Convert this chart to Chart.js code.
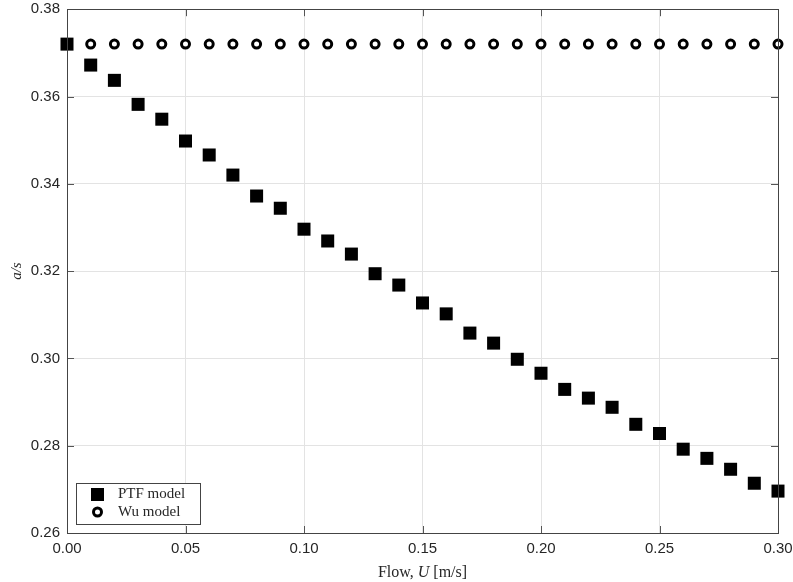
<!DOCTYPE html>
<html lang="en">
<head>
  <meta charset="UTF-8" />
  <title>a/s vs Flow</title>
  <script src="https://cdn.jsdelivr.net/npm/chart.js"></script>
  <style>
    html, body { margin: 0; padding: 0; background: #fff; }
    #wrap { width: 793px; height: 582px; }
  </style>
</head>
<body>
  <div id="wrap"><canvas id="grafico" width="793" height="582"></canvas></div>

  <script>
    // flow velocity U [m/s]
    const flow = [0.00, 0.01, 0.02, 0.03, 0.04, 0.05, 0.06, 0.07, 0.08, 0.09,
                  0.10, 0.11, 0.12, 0.13, 0.14, 0.15, 0.16, 0.17, 0.18, 0.19,
                  0.20, 0.21, 0.22, 0.23, 0.24, 0.25, 0.26, 0.27, 0.28, 0.29, 0.30];
    const ptfModel = [0.3720, 0.3672, 0.3637, 0.3582, 0.3548, 0.3498, 0.3466, 0.3420, 0.3372, 0.3344,
                      0.3296, 0.3269, 0.3239, 0.3194, 0.3168, 0.3127, 0.3102, 0.3058, 0.3035, 0.2998,
                      0.2966, 0.2929, 0.2909, 0.2888, 0.2849, 0.2828, 0.2792, 0.2771, 0.2746, 0.2714, 0.2696];
    const wuModel = [0.372, 0.372, 0.372, 0.372, 0.372, 0.372, 0.372, 0.372, 0.372, 0.372,
                     0.372, 0.372, 0.372, 0.372, 0.372, 0.372, 0.372, 0.372, 0.372, 0.372,
                     0.372, 0.372, 0.372, 0.372, 0.372, 0.372, 0.372, 0.372, 0.372, 0.372, 0.372];
    const seriesNames = ['PTF model', 'Wu model'];
    const xTicks = [0.00, 0.05, 0.10, 0.15, 0.20, 0.25, 0.30];
    const yTicks = [0.26, 0.28, 0.30, 0.32, 0.34, 0.36, 0.38];

    const sans = '"Liberation Sans", Arial, sans-serif';
    const serif = '"Liberation Serif", "DejaVu Serif", serif';

    // inward ticks on all four sides + box, axis title and legend
    const boxTicks = {
      id: 'boxTicks',
      afterDatasetsDraw(chart) {
        const { ctx, chartArea: a, scales } = chart;
        ctx.save();
        ctx.strokeStyle = '#555';
        ctx.lineWidth = 1;
        ctx.beginPath();
        xTicks.forEach(v => {
          const px = Math.round(scales.x.getPixelForValue(v)) + 0.5;
          ctx.moveTo(px, a.bottom); ctx.lineTo(px, a.bottom - 7);
          ctx.moveTo(px, a.top); ctx.lineTo(px, a.top + 7);
        });
        yTicks.forEach(v => {
          const py = Math.round(scales.y.getPixelForValue(v)) + 0.5;
          ctx.moveTo(a.left, py); ctx.lineTo(a.left + 7, py);
          ctx.moveTo(a.right, py); ctx.lineTo(a.right - 7, py);
        });
        ctx.stroke();
        ctx.strokeStyle = '#444';
        ctx.strokeRect(Math.round(a.left) + 0.5, Math.round(a.top) + 0.5,
                       Math.round(a.right - a.left), Math.round(a.bottom - a.top));
        ctx.restore();
      },
      afterDraw(chart) {
        const { ctx, chartArea: a } = chart;
        ctx.save();
        // x axis title with italic U
        const parts = [['Flow, ', 'normal'], ['U', 'italic'], [' [m/s]', 'normal']];
        let total = 0;
        parts.forEach(p => { ctx.font = p[1] + ' 16px ' + serif; total += ctx.measureText(p[0]).width; });
        let x = (a.left + a.right) / 2 - total / 2;
        ctx.fillStyle = '#262626';
        ctx.textBaseline = 'middle';
        parts.forEach(p => {
          ctx.font = p[1] + ' 16px ' + serif;
          ctx.fillText(p[0], x, 573);
          x += ctx.measureText(p[0]).width;
        });

        // legend box, bottom-left inside the plot
        const lx = a.left + 9, ly = a.bottom - 50, lw = 124, lh = 41;
        ctx.fillStyle = '#fff';
        ctx.fillRect(lx, ly, lw, lh);
        ctx.strokeStyle = '#444';
        ctx.lineWidth = 1;
        ctx.strokeRect(lx + 0.5, ly + 0.5, lw, lh);
        ctx.fillStyle = '#000';
        ctx.fillRect(lx + 15, ly + 5, 13, 13);
        ctx.beginPath();
        ctx.arc(lx + 21.5, ly + 29, 4, 0, Math.PI * 2);
        ctx.lineWidth = 3;
        ctx.strokeStyle = '#000';
        ctx.stroke();
        ctx.fillStyle = '#262626';
        ctx.font = '15px ' + serif;
        ctx.textBaseline = 'middle';
        ctx.fillText(seriesNames[0], lx + 42, ly + 11);
        ctx.fillText(seriesNames[1], lx + 42, ly + 29);
        ctx.restore();
      }
    };

    new Chart(document.getElementById('grafico'), {
      type: 'scatter',
      data: {
        datasets: [
          {
            label: seriesNames[0],
            data: flow.map((f, i) => ({ x: f, y: ptfModel[i] })),
            pointStyle: 'rect',
            pointRadius: 9.2,
            pointHoverRadius: 9.2,
            backgroundColor: '#000',
            borderColor: '#000',
            borderWidth: 0,
            clip: false,
            order: 0
          },
          {
            label: seriesNames[1],
            data: flow.map((f, i) => ({ x: f, y: wuModel[i] })),
            pointStyle: 'circle',
            pointRadius: 4,
            pointHoverRadius: 4,
            backgroundColor: '#fff',
            borderColor: '#000',
            borderWidth: 3,
            clip: false,
            order: 1
          }
        ]
      },
      options: {
        responsive: false,
        animation: false,
        layout: { padding: { top: 9, right: 15, left: 0, bottom: 0 } },
        plugins: {
          legend: { display: false },
          tooltip: { enabled: false }
        },
        scales: {
          x: {
            type: 'linear',
            min: 0,
            max: 0.30,
            afterBuildTicks: s => { s.ticks = xTicks.map(v => ({ value: v })); },
            afterFit: s => { s.height = 49; s.paddingLeft = 0; s.paddingRight = 0; },
            grid: { color: '#e3e3e3', drawTicks: false },
            border: { display: false },
            ticks: {
              padding: 7,
              color: '#262626',
              font: { family: sans, size: 15 },
              callback: v => Number(v).toFixed(2)
            }
          },
          y: {
            type: 'linear',
            min: 0.26,
            max: 0.38,
            afterBuildTicks: s => { s.ticks = yTicks.map(v => ({ value: v })); },
            afterFit: s => { s.width = 67; s.paddingTop = 0; s.paddingBottom = 0; },
            grid: { color: '#e3e3e3', drawTicks: false },
            border: { display: false },
            title: {
              display: true,
              text: 'a/s',
              color: '#262626',
              font: { family: serif, size: 15, style: 'italic' },
              padding: { top: 8, bottom: 0 }
            },
            ticks: {
              padding: 7,
              color: '#262626',
              font: { family: sans, size: 15 },
              callback: v => Number(v).toFixed(2)
            }
          }
        }
      },
      plugins: [boxTicks]
    });
  </script>
</body>
</html>
